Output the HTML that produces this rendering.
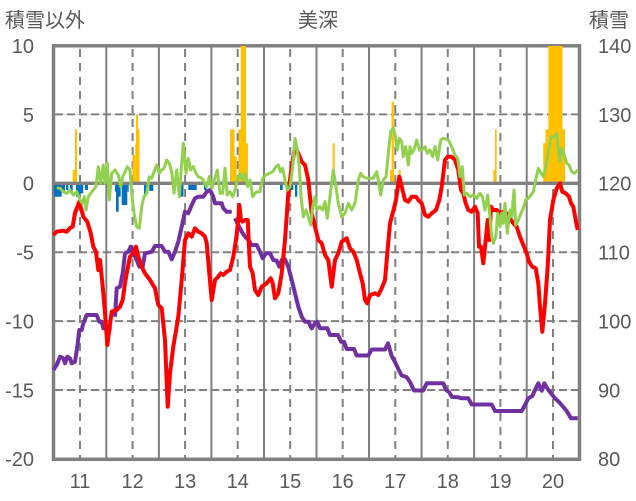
<!DOCTYPE html>
<html>
<head>
<meta charset="utf-8">
<style>
html,body{margin:0;padding:0;background:#fff;}
svg{display:block;}
text{font-family:"Liberation Sans","Noto Sans CJK JP",sans-serif;fill:#595959;}
</style>
</head>
<body>
<svg width="636" height="501" viewBox="0 0 636 501" xmlns="http://www.w3.org/2000/svg">
<rect x="0" y="0" width="636" height="501" fill="#fff"/>

<!-- titles -->
<text x="5" y="27" font-size="20">積雪以外</text>
<text x="318" y="27" font-size="20" text-anchor="middle">美深</text>
<text x="589" y="27" font-size="20">積雪</text>

<!-- horizontal light major lines -->
<g stroke="#d9d9d9" stroke-width="1">
<line x1="54" y1="114.4" x2="579" y2="114.4"/>
<line x1="54" y1="252.2" x2="579" y2="252.2"/>
<line x1="54" y1="321.1" x2="579" y2="321.1"/>
<line x1="54" y1="390" x2="579" y2="390"/>
</g>
<!-- horizontal dashed -->
<g stroke="#808080" stroke-width="2" stroke-dasharray="8,4">
<line x1="55" y1="114.4" x2="579" y2="114.4"/>
<line x1="55" y1="252.2" x2="579" y2="252.2"/>
<line x1="55" y1="321.1" x2="579" y2="321.1"/>
<line x1="55" y1="390" x2="579" y2="390"/>
</g>
<!-- vertical solid -->
<g stroke="#808080" stroke-width="2">
<line x1="106.3" y1="46" x2="106.3" y2="459"/>
<line x1="158.9" y1="46" x2="158.9" y2="459"/>
<line x1="211.4" y1="46" x2="211.4" y2="459"/>
<line x1="264" y1="46" x2="264" y2="459"/>
<line x1="316.5" y1="46" x2="316.5" y2="459"/>
<line x1="369" y1="46" x2="369" y2="459"/>
<line x1="421.6" y1="46" x2="421.6" y2="459"/>
<line x1="474.1" y1="46" x2="474.1" y2="459"/>
<line x1="526.7" y1="46" x2="526.7" y2="459"/>
</g>
<!-- vertical dashed -->
<g stroke="#808080" stroke-width="2" stroke-dasharray="8,6">
<line x1="80" y1="49" x2="80" y2="459"/>
<line x1="132.6" y1="49" x2="132.6" y2="459"/>
<line x1="185.1" y1="49" x2="185.1" y2="459"/>
<line x1="237.7" y1="49" x2="237.7" y2="459"/>
<line x1="290.2" y1="49" x2="290.2" y2="459"/>
<line x1="342.7" y1="49" x2="342.7" y2="459"/>
<line x1="395.3" y1="49" x2="395.3" y2="459"/>
<line x1="447.8" y1="49" x2="447.8" y2="459"/>
<line x1="500.4" y1="49" x2="500.4" y2="459"/>
<line x1="553" y1="49" x2="553" y2="459"/>
</g>

<!-- frame -->
<rect x="53.5" y="45.8" width="526" height="413.5" fill="none" stroke="#808080" stroke-width="3.5"/>

<!-- yellow bars -->
<g fill="#FFC000">
<rect x="72.7" y="170" width="2.3" height="13.3"/>
<rect x="75" y="129.3" width="2" height="54"/>
<rect x="132.5" y="155" width="2.8" height="28.3"/>
<rect x="135.3" y="143.3" width="1.2" height="40"/>
<rect x="136" y="115" width="2" height="68.3"/>
<rect x="137.3" y="129.3" width="2.2" height="54"/>
<rect x="230" y="129.3" width="4.5" height="54"/>
<rect x="234.5" y="156.7" width="2.2" height="26.6"/>
<rect x="238.5" y="129.3" width="2.5" height="54"/>
<rect x="240.8" y="46" width="5.2" height="137.3"/>
<rect x="245.7" y="143.3" width="2.3" height="40"/>
<rect x="332.7" y="143.3" width="2" height="40"/>
<rect x="390" y="170" width="4" height="13.3"/>
<rect x="391.6" y="101.7" width="2.2" height="81.6"/>
<rect x="398.7" y="170" width="2" height="13.3"/>
<rect x="493.3" y="170" width="2.4" height="13.3"/>
<rect x="495" y="129.3" width="1.7" height="54"/>
<rect x="543.3" y="143.3" width="2.4" height="40"/>
<rect x="545.5" y="129.3" width="2.8" height="54"/>
<rect x="548.3" y="46" width="14.2" height="137.3"/>
<rect x="562.5" y="129.3" width="2.5" height="54"/>
</g>
<!-- blue bars -->
<g fill="#0070C0">
<rect x="54" y="183.3" width="7.7" height="13.4"/>
<rect x="61.7" y="183.3" width="3.3" height="8.4"/>
<rect x="66" y="183.3" width="2.3" height="6.7"/>
<rect x="70" y="183.3" width="2.7" height="8.4"/>
<rect x="76" y="183.3" width="4" height="13.4"/>
<rect x="80" y="183.3" width="3.3" height="10"/>
<rect x="85" y="183.3" width="3" height="6.7"/>
<rect x="115" y="183.3" width="3.3" height="8.4"/>
<rect x="116" y="183.3" width="2.7" height="28.4"/>
<rect x="118.3" y="183.3" width="2.4" height="13.4"/>
<rect x="121.7" y="183.3" width="5.6" height="21.7"/>
<rect x="127.3" y="183.3" width="1.4" height="8.4"/>
<rect x="144" y="183.3" width="4.3" height="10.7"/>
<rect x="149.3" y="183.3" width="4" height="7.7"/>
<rect x="180" y="183.3" width="3.5" height="13.4"/>
<rect x="188.3" y="183.3" width="8.4" height="6.7"/>
<rect x="204" y="183.3" width="2.7" height="6.7"/>
<rect x="280" y="183.3" width="2.7" height="6.7"/>
<rect x="286" y="183.3" width="7.3" height="6.7"/>
<rect x="295" y="183.3" width="2.3" height="13.4"/>
</g>

<!-- zero line -->
<line x1="54" y1="183.3" x2="579" y2="183.3" stroke="#808080" stroke-width="3.3"/>

<!-- purple -->
<g fill="none" stroke="#7030A0" stroke-width="4" stroke-linejoin="round" stroke-linecap="butt">
<polyline points="53.3,370 56.7,365 60,356.7 63.3,358.3 65,363.3 67.3,356.7 70,358.3 71.7,363.3 75,361.7 77.3,346.7 79.3,330 81.7,330 83.3,323.3 86.7,315 96.7,315 99.3,321.7 101.7,321.7 103.3,328.3 111.7,328.3"/>
<polyline points="115,316.7 116.7,288.3 120,286.7 122.7,273.3 125,253.3 128.3,251.7 130.7,246.7 133.3,253.3 136.7,260 139.3,266.7 142.7,266.7 145,253.3 148.3,252.7 151.7,251.7 155,246 161.7,246 165,251.7 168.3,251.7 171.7,259.3 175,251.7 178.3,241.7 181.7,226.7 185,211.7 188.3,213.3 191.7,205 195,198.3 198.3,196.7 203.3,196.7 206.7,191.7 210,190 213.3,196.7 215,203.3 221.7,203.3 223.3,208.3 226.7,211.7 231.7,211.7"/>
<polyline points="235,218.3 238.3,225 241.7,231.7 245,236.7 248.3,240 251.7,245 256.7,245 260,251.7 262.7,258.3 266,253.3 270,253.3 273.3,260 276.7,260.7 279.3,266.7 281.7,260 285,259.3 288.3,266.7 291.7,280 295,293.3 298.3,306.7 301.7,316.7 305,321.7 308.3,321.7 311.7,328.3 315,323.3 317.3,321.7 320,328.3 327.3,328.3 330,335 338,335 341,341.7 344,341.7 346.7,349 354,349 356.7,355.5 368.3,355.5 371.7,349.5 385,349.5 388,343.3 391.5,355.5 395,362 398.3,369 401.7,375.5 406.5,377 410,382 414,390.5 423.3,390.5 426.7,383.3 443.3,383.3 446,390 449,392 452,397 458.3,397.3 461.7,398.3 468.3,398.3 471.7,404.5 491.7,404.5 495,411 521.7,411 525,405 528.3,398.3 532.3,396 535,390 538.3,383.3 541.7,390.7 544.3,383.3 547.7,389 551,393.3 555,398.3 559,402 563.3,407 566.7,411 571,418.3 577.7,418.3"/>
</g>

<!-- red -->
<polyline fill="none" stroke="#FF0000" stroke-width="4" stroke-linejoin="round" points="53.3,235 56.7,231.7 63.3,230.7 66.7,231.7 70,228 72.7,226.7 75,213 79.3,201.7 83.3,216.7 87.3,221.7 90.7,233 93.3,246.7 96,251.7 98.3,270 100,260 102.7,286.7 105,313 107.3,345 109.3,330 111.7,311.7 116.7,310 120,306.7 122.7,300 125,283 127.3,270 130,256.7 133.3,253.3 136,246.7 138.3,256.7 141.7,266.7 145,273.3 150,280 155,288.3 158.3,305 161.7,308.3 165,340 167.7,406.7 170,373.3 173.3,346.7 178.3,316.7 181.7,280 185,240 188.3,233.3 191.7,236.7 195,228.3 198.3,231.7 201.7,233.3 205,236.7 206.7,243.3 209.3,273.3 211.7,300 215,280 218.3,276.7 220.7,273.3 223.3,275 226.7,271.7 230,270 233.3,256.7 236,240 238.3,220 239.3,205 241,220 242.7,221.7 245,220 247.7,220 250,266.7 252.7,273.3 255,290 258.3,295 261.7,286.7 266.7,283.3 270.7,278.3 272.7,283.3 275,298.3 278.3,293.3 281.7,273.3 285,240 288.3,193.3 291.7,166.7 295,146.7 298.3,153.3 301.7,161.7 305,165 308.3,180 311.7,213.3 315,226.7 318.3,240 321.7,243.3 325,255 328.3,260 331.7,286.7 335,260 338.3,253.3 341.7,241.7 346.7,238.3 350,248.3 353.3,251.7 356.7,260 360,273.3 362.7,283.3 365,300 367.3,303.3 370,295 375,293.3 378.3,295 381.7,288.3 385,280 387.3,253.3 390,223.3 392.7,213.3 396,200 399.3,176.7 401.7,186.7 405,200 408.3,201.7 411.7,196.7 416,196.7 418.3,200 421.7,203.3 425,215 428.3,216.7 431.7,213.3 436,210 439.3,200 441.7,186.7 445,160 447.7,156.7 451.7,156.7 455,160 458.3,170 461,190 463.3,193.3 465.7,203.3 468.3,210 471.7,211.7 475,206.7 477.7,213.3 479,246.7 481,246.7 483.3,263.3 485.7,240 487.7,220 489.3,240 491,206.7 493.3,210 496.7,210 500,213.3 503.3,211.7 506.7,213.3 510,218.3 513.3,223.3 516.7,226.7 520,236.7 523.3,245 526.7,253.3 529,261.7 532.3,266.7 535.7,268.3 538.3,283.3 540,306.7 542.3,331.7 545,303.3 547.7,266.7 550,220 553.3,200 556.7,188.3 560,183.3 562.3,191.7 565.7,193.3 569,196.7 571,203.3 573.3,206.7 575.7,220 577.7,230"/>

<!-- green -->
<polyline fill="none" stroke="#92D050" stroke-width="3" stroke-linejoin="round" points="56.7,187.7 60,188.3 63.3,191.7 66.7,193.3 70,190 73.3,195 76.7,191.7 80,200 82.3,203.3 84.3,196.7 86,210 88.3,196.7 90.7,193.3 93.3,190 96,186.7 98.3,166.7 100.7,183.3 103.3,165 105,183.3 107.3,163.3 109.3,200 111.7,173.3 115,170 118.3,175 120.7,186.7 122.7,176.7 125,171.7 127.3,166.7 130,170 131.7,193.3 134,213.3 136.7,226.7 139.3,228.3 141.7,206.7 144,196.7 146.7,193.3 149.3,176.7 151.7,178.3 154,171.7 156.7,165 159.3,173.3 161.7,170 164,168.3 166.7,160 169.3,163.3 171.7,171.7 174,193.3 176.7,170 179.3,196.7 181.7,163.3 183.3,143.3 186,173.3 188.3,158.3 190.7,170 193.3,166.7 196,173.3 198.3,176.7 201.7,178.3 204,181.7 206.7,186.7 209.3,176.7 211.7,188.3 214.3,180 217.3,170 220,193.3 222.7,193.3 225,168.3 227.3,195 230,191.7 232.7,196.7 235,190 237.3,180 240,173.3 242.7,180 245,173.3 247.7,186.7 250,180 252.7,196.7 255,193.3 257.3,191.7 260,191.7 262.7,178.3 266,175 269.3,173.3 272.7,171.7 276,166.7 278.3,165 280.7,171.7 282.7,168.3 285,180 287.3,190 290,186.7 292.7,166.7 295,138.3 297.3,150 299.3,166.7 301,196.7 303.3,216.7 306,210 308.3,216.7 310.7,225 312.7,206.7 315,196.7 316.7,210 320,206.7 322.7,210 325,201.7 327.3,218.3 330,196.7 333.3,170 336,186.7 338.3,203.3 341.7,216.7 345,213.3 348.3,203.3 351.7,210 355,203.3 358.3,180 360.7,173.3 363.3,176.7 366.7,178.3 373.3,178.3 376.7,171.7 378.3,180 380.7,195 383.3,180 386,176.7 388.3,153.3 390.7,131.7 393.3,128.3 395,135 397.3,150 399.3,138.3 401.7,141.7 403.3,156.7 405.7,146.7 408.3,165 410,146.7 411.7,153.3 414,150 416.7,140 419.3,150 421.7,150 425,146.7 427.3,153.3 430,150 432.7,156.7 435,146.7 437.7,160 440.7,140 443.3,138.3 448.3,140 451.7,146.7 455,155 457.7,158.3 460,176.7 462.3,166.7 464.3,195 466.7,193.3 470,196.7 473.3,195 476.7,198.3 480,193.3 482.3,196.7 485,210 487.7,195 490,216.7 491.7,236.7 493.3,243.3 495.7,236.7 497.7,213.3 500,226.7 501.7,213.3 503.3,223.3 505,203.3 507.3,233.3 510,210 511.7,216.7 514,190 515.7,225 518.3,220 521,213.3 523.3,208.3 525.7,200 528.3,198.3 531,195 533.3,191.7 535.7,180 538.3,168.3 541,173.3 543.3,176.7 545.7,166.7 548.3,153.3 551,136.7 554.3,136.7 556.7,133.3 558.3,150 560,161.7 561.7,148.3 564.3,155 566.7,163.3 569,165 571.7,171.7 574.3,173.3 577.7,170"/>

<!-- left axis labels -->
<g font-size="20" text-anchor="end">
<text x="34" y="53">10</text>
<text x="34" y="122">5</text>
<text x="34" y="190.5">0</text>
<text x="34" y="259.5">-5</text>
<text x="34" y="328.5">-10</text>
<text x="34" y="397.5">-15</text>
<text x="34" y="466">-20</text>
</g>
<!-- right axis labels -->
<g font-size="20" text-anchor="start">
<text x="598" y="53">140</text>
<text x="598" y="122">130</text>
<text x="598" y="190.5">120</text>
<text x="598" y="259.5">110</text>
<text x="598" y="328.5">100</text>
<text x="598" y="397.5">90</text>
<text x="598" y="466">80</text>
</g>
<!-- x labels -->
<g font-size="20" text-anchor="middle">
<text x="80" y="488">11</text>
<text x="132.6" y="488">12</text>
<text x="185.1" y="488">13</text>
<text x="237.7" y="488">14</text>
<text x="290.2" y="488">15</text>
<text x="342.7" y="488">16</text>
<text x="395.3" y="488">17</text>
<text x="447.8" y="488">18</text>
<text x="500.4" y="488">19</text>
<text x="553" y="488">20</text>
</g>
</svg>
</body>
</html>
